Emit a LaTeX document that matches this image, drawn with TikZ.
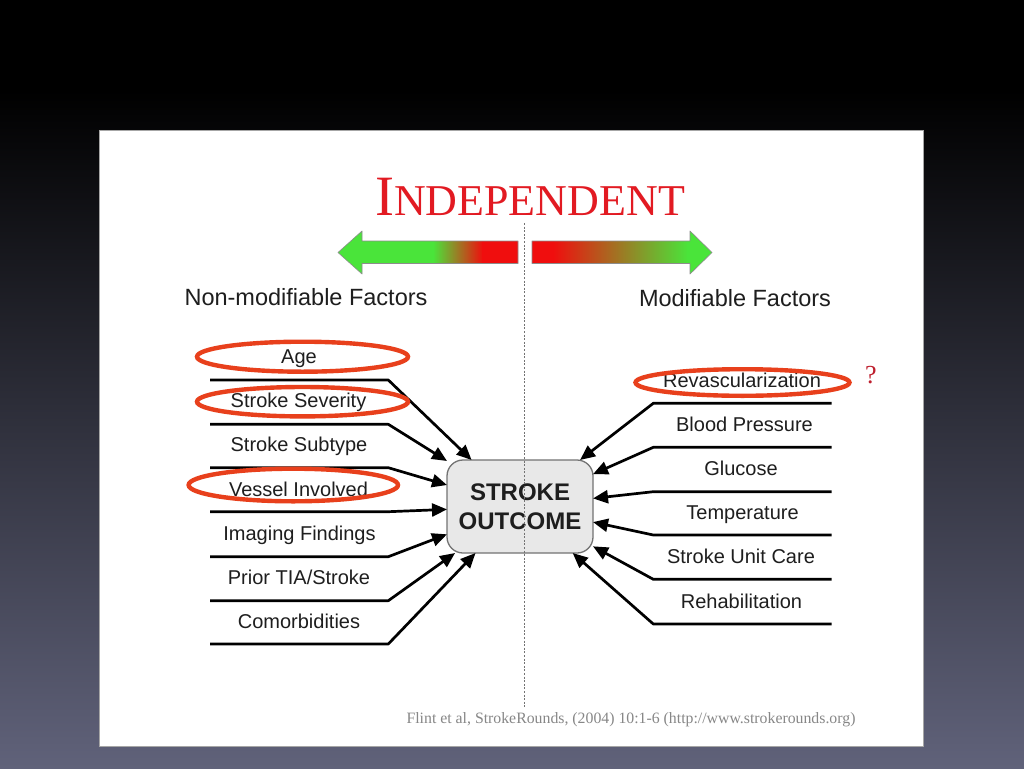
\documentclass[tikz,border=0pt]{standalone}
\usepackage{fontspec}
\setmainfont{Liberation Serif}
\newfontfamily\arial{Liberation Sans}
\usetikzlibrary{arrows.meta}
\definecolor{bgbot}{RGB}{96,98,122}
\definecolor{hlred}{RGB}{232,64,28}
\definecolor{indred}{RGB}{226,26,34}
\definecolor{qred}{RGB}{190,30,45}
\definecolor{agreen}{RGB}{74,228,58}
\definecolor{ared}{RGB}{240,14,14}
\definecolor{txt}{RGB}{30,30,30}
\definecolor{boxfill}{RGB}{232,232,232}
\definecolor{citegray}{RGB}{135,135,135}
\begin{document}
\begin{tikzpicture}[x=1pt,y=-1pt,
  item/.style={anchor=base,inner sep=0pt,text=txt,font=\arial\fontsize{20}{24}\selectfont},
  heading/.style={anchor=base,inner sep=0pt,text=txt,font=\arial\fontsize{23.5}{28}\selectfont},
  conn/.style={draw=black,line width=2.7pt,line join=round,-{Triangle[length=15pt,width=13pt]}},
  hl/.style={draw=hlred,line width=4.4pt},
  outcome/.style={draw=black!55,line width=1.3pt,fill=boxfill,rounded corners=16pt,
    minimum width=146pt,minimum height=93pt,outer sep=0pt,align=center,text=txt,
    font=\arial\bfseries\fontsize{24}{29}\selectfont},
  arrowline/.style={draw=black!45,line width=0.6pt,line join=round}
]
\useasboundingbox (0,0) rectangle (1024,768);
% background
\fill[black] (0,0) rectangle (1024,90);
\shade[top color=black,bottom color=bgbot] (0,90) rectangle (1024,768);
\draw[fill=white,draw=black!35,line width=0.6pt] (99,130) rectangle (923,746);

% title
\node[inner sep=0pt,text=indred,font=\fontsize{44}{44}\selectfont] (title) at (530,196.5)
  {{\fontsize{57}{57}\selectfont I}NDEPENDENT};

% left gradient arrow
\begin{scope}
\clip (338,252.5) -- (362,231) -- (362,241) -- (518,241) -- (518,263.5) -- (362,263.5) -- (362,274) -- cycle;
\fill[agreen] (330,225) rectangle (434,280);
\shade[left color=agreen,right color=ared] (433,225) rectangle (483,280);
\fill[ared] (482,225) rectangle (522,280);
\end{scope}
\draw[arrowline] (338,252.5) -- (362,231) -- (362,241) -- (518,241) -- (518,263.5) -- (362,263.5) -- (362,274) -- cycle;
% right gradient arrow
\begin{scope}
\clip (532,241) -- (690,241) -- (690,231) -- (712,252.5) -- (690,274) -- (690,263.5) -- (532,263.5) -- cycle;
\fill[ared] (528,225) rectangle (554,280);
\shade[left color=ared,right color=agreen] (553,225) rectangle (688,280);
\fill[agreen] (687,225) rectangle (716,280);
\end{scope}
\draw[arrowline] (532,241) -- (690,241) -- (690,231) -- (712,252.5) -- (690,274) -- (690,263.5) -- (532,263.5) -- cycle;

% headings
\node[heading] (nonmod) at (306,305) {Non-modifiable Factors};
\node[heading] (mod) at (735,306) {Modifiable Factors};

% central box
\node[outcome] (box) at (520,506.5) {STROKE\\OUTCOME};

% left items
\node[item] (age) at (299,363) {Age};
\node[item] (sev) at (298.5,407) {Stroke Severity};
\node[item] (sub) at (299,451.5) {Stroke Subtype};
\node[item] (ves) at (298.5,496) {Vessel Involved};
\node[item] (img) at (299.5,540.5) {Imaging Findings};
\node[item] (tia) at (299,584) {Prior TIA/Stroke};
\node[item] (com) at (299,628) {Comorbidities};

% right items
\node[item] (rev) at (742,387) {Revascularization};
\node[item] (bp) at (744.5,431.5) {Blood Pressure};
\node[item] (glu) at (741,475.5) {Glucose};
\node[item] (tmp) at (742.5,519.5) {Temperature};
\node[item] (suc) at (741,563.5) {Stroke Unit Care};
\node[item] (reh) at (741.5,608) {Rehabilitation};

% left connectors
\foreach \i/\y in {1/380,2/424.3,3/467.7,4/511.7,5/556.7,6/600.7,7/644}{
  \coordinate (l\i s) at (210,\y);
  \coordinate (l\i c) at (388.3,\y);
}
\foreach \i in {1,...,7}{
  \draw[conn] (l\i s) -- (l\i c) -- (box);
}
% right connectors
\foreach \i/\y in {1/403.3,2/447.3,3/491.7,4/535,5/579.3,6/624}{
  \coordinate (r\i s) at (831.7,\y);
  \coordinate (r\i c) at (653.3,\y);
}
\foreach \i in {1,...,6}{
  \draw[conn] (r\i s) -- (r\i c) -- (box);
}

% highlight ellipses
\draw[hl] (302.5,356.7) ellipse [x radius=105.5,y radius=15];
\draw[hl] (302.5,401.7) ellipse [x radius=105.5,y radius=14.7];
\draw[hl] (293.3,485) ellipse [x radius=104.7,y radius=16.3];
\draw[hl] (742.5,382.5) ellipse [x radius=107,y radius=13.3];

% question mark
\node[anchor=base,inner sep=0pt,text=qred,font=\fontsize{26}{26}\selectfont] (q) at (871,383.5) {?};

% dashed divider
\draw[black!55,line width=0.8pt,dash pattern=on 2pt off 1.6pt] (524,223) -- (524,707);

% citation
\node[anchor=base,inner sep=0pt,text=citegray,font=\fontsize{15.8}{18}\selectfont] (cite) at (631,723)
  {Flint et al, StrokeRounds, (2004) 10:1-6 (http://www.strokerounds.org)};
\end{tikzpicture}
\end{document}
